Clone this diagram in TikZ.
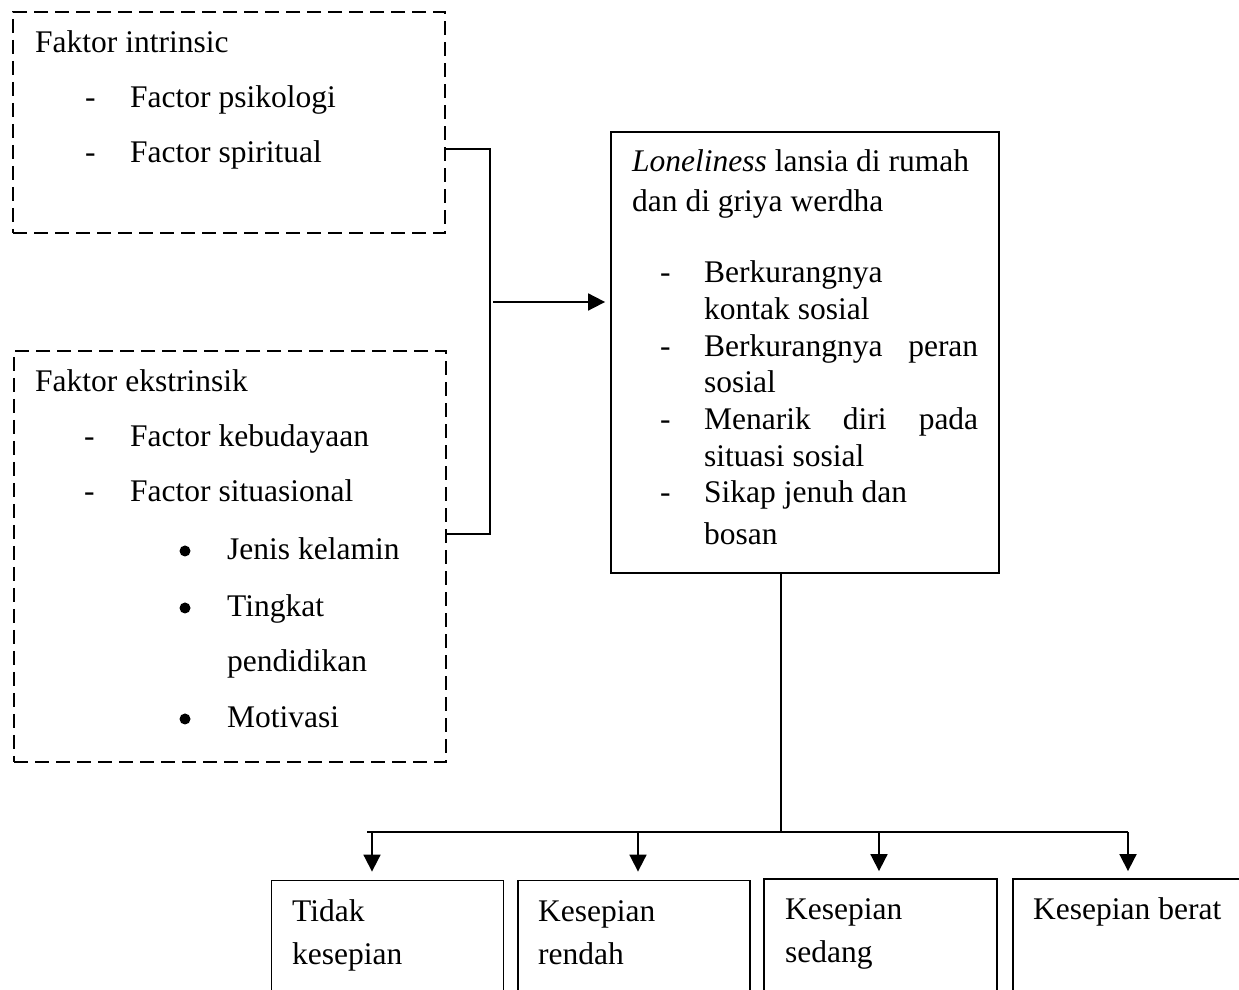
\documentclass[tikz,border=0pt]{standalone}
\usepackage{fontspec}
\setmainfont{Liberation Serif}
\usetikzlibrary{arrows.meta, positioning, calc}
\tikzset{
  every node/.style={font=\fontsize{31.5}{37}\selectfont, inner sep=0pt},
  arr/.style={-{Triangle[length=17pt,width=17pt]}, line width=1.8pt, black},
  link/.style={line width=1.8pt, black},
  dashbox/.style={draw, dash pattern=on 14pt off 7pt, line width=1.8pt,
                  minimum width=432pt},
  mainbox/.style={draw, line width=1.8pt, minimum width=388pt, minimum height=441pt},
  levelbox/.style={draw, line width=1.8pt, minimum width=232pt, minimum height=120pt},
  txt/.style={anchor=base west},
  itemmark/.style={anchor=base west},
  bulletdot/.style={circle, fill=black, minimum size=11pt}
}

\begin{document}
\begin{tikzpicture}[x=1pt,y=1pt]

\useasboundingbox (0,0) rectangle (1239,990);
\clip (0,0) rectangle (1239,990);

% Intrinsic factors
\node[dashbox, minimum height=221pt] (intr) at (229,867.5) {};
\node[txt] (intrT) at (35,937) {Faktor intrinsic};
\node[itemmark] (intrD1) at (85,882) {-};
\node[txt] (intrA) at (130,882) {Factor psikologi};
\node[itemmark] (intrD2) at (85,827) {-};
\node[txt] (intrB) at (130,827) {Factor spiritual};

% Extrinsic factors
\node[dashbox, minimum height=411pt] (ekst) at (230,433.5) {};
\node[txt] (ekstT) at (35,598) {Faktor ekstrinsik};
\node[itemmark] (ekstD1) at (84,543) {-};
\node[txt] (ekstA) at (130,543) {Factor kebudayaan};
\node[itemmark] (ekstD2) at (84,488) {-};
\node[txt] (ekstB) at (130,488) {Factor situasional};
\node[bulletdot] (ekstP1) at (185,439) {};
\node[txt] (ekstB1) at (227,430) {Jenis kelamin};
\node[bulletdot] (ekstP2) at (185,382) {};
\node[txt] (ekstB2) at (227,373) {Tingkat};
\node[txt] (ekstB2b) at (227,318) {pendidikan};
\node[bulletdot] (ekstP3) at (185,271) {};
\node[txt] (ekstB3) at (227,262) {Motivasi};

% Loneliness box
\node[mainbox] (main) at (805,637.5) {};
\node[txt] (mainT1) at (632,818) {\textit{Loneliness} lansia di rumah};
\node[txt] (mainT2) at (632,778) {dan di griya werdha};
\node[itemmark] (mainD1) at (660,707) {-};
\node[txt] (mainA1) at (704,707) {Berkurangnya};
\node[txt] (mainA2) at (704,670) {kontak sosial};
\node[itemmark] (mainD2) at (660,633) {-};
\node[txt] (mainB1) at (704,633) {\hbox to 274pt{Berkurangnya\hfill peran}};
\node[txt] (mainB2) at (704,597) {sosial};
\node[itemmark] (mainD3) at (660,560) {-};
\node[txt] (mainC1) at (704,560) {\hbox to 274pt{Menarik\hfill diri\hfill pada}};
\node[txt] (mainC2) at (704,523) {situasi sosial};
\node[itemmark] (mainD4) at (660,487) {-};
\node[txt] (mainE1) at (704,487) {Sikap jenuh dan};
\node[txt] (mainE2) at (704,445) {bosan};

% Bracket into the loneliness box
\coordinate (jtop) at (490,841);
\coordinate (jbot) at (490,456);
\coordinate (jmid) at (493,688);
\draw[link] (jtop -| intr.east) -- (jtop) -- (jbot) -- (jbot -| ekst.east);
\draw[arr, shorten >=5pt] (jmid) -- (jmid -| main.west);

% Loneliness levels
\node[levelbox] (tidak) at (387.5,49.5) {};
\node[txt] (tidakT1) at (292,68) {Tidak};
\node[txt] (tidakT2) at (292,25) {kesepian};
\node[levelbox] (rendah) at (634,49.5) {};
\node[txt] (rendahT1) at (538,68) {Kesepian};
\node[txt] (rendahT2) at (538,25) {rendah};
\node[levelbox, minimum width=233pt] (sedang) at (880.5,51) {};
\node[txt] (sedangT1) at (785,70) {Kesepian};
\node[txt] (sedangT2) at (785,27) {sedang};
\node[levelbox, minimum width=233pt] (berat) at (1129.5,51) {};
\node[txt] (beratT) at (1033,70) {Kesepian berat};

% Split line
\coordinate (split) at (781,158);
\coordinate (s1) at (372,158);
\coordinate (s2) at (638,158);
\coordinate (s3) at (879,158);
\coordinate (s4) at (1128,158);
\draw[link] (split |- main.south) -- (split);
\draw[link] (367,158) -- (s4);
\draw[arr, shorten >=8pt] (s1) -- (s1 |- tidak.north);
\draw[arr, shorten >=8pt] (s2) -- (s2 |- rendah.north);
\draw[arr, shorten >=7pt] (s3) -- (s3 |- sedang.north);
\draw[arr, shorten >=7pt] (s4) -- (s4 |- berat.north);

\end{tikzpicture}
\end{document}
